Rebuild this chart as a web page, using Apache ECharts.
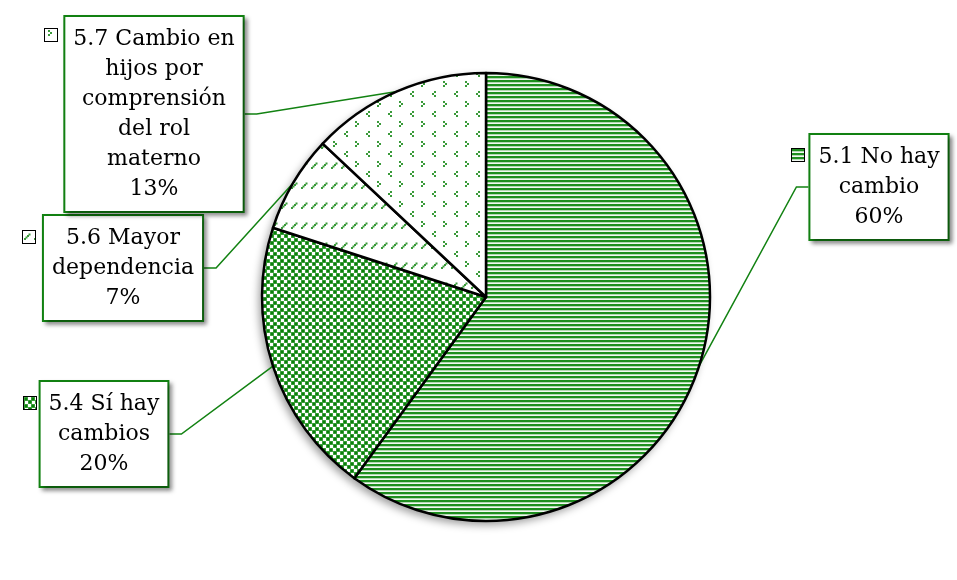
<!DOCTYPE html>
<html><head><meta charset="utf-8">
<script src="https://cdn.jsdelivr.net/npm/echarts@6/dist/echarts.min.js"></script>
<style>html,body{margin:0;padding:0;background:#fff}#c{width:957px;height:580px}</style>
</head><body><div id="c"></div>
<script>
// ---- data ----
const categories = ['5.1 No hay\ncambio', '5.4 Sí hay\ncambios', '5.6 Mayor\ndependencia', '5.7 Cambio en\nhijos por\ncomprensión\ndel rol\nmaterno'];
const values = [60, 20, 7, 13];

// ---- layout (label box centres, legend-key centres) ----
const labelCenters = [[879, 187], [104, 434], [123, 268], [154, 114]];
const keyCenters = [[798, 155], [30, 403], [29, 237], [51, 35]];

function tile(w, h, draw) {
  const c = document.createElement('canvas');
  c.width = w; c.height = h;
  const x = c.getContext('2d');
  x.fillStyle = '#fff'; x.fillRect(0, 0, w, h);
  draw(x);
  return c;
}
function dot(x, px, py, col) { x.fillStyle = col; x.fillRect(px, py, 2, 2); }
const tiles = [
  // horizontal stripes
  tile(4, 4, x => {
    x.fillStyle = '#1f8f1f'; x.fillRect(0, 0, 4, 2);
    x.fillStyle = '#b3d9b3'; x.fillRect(0, 2, 4, 1);
    x.fillStyle = '#f2f9f2'; x.fillRect(0, 3, 4, 1);
  }),
  // large confetti squares
  tile(7, 7, x => {
    x.fillStyle = '#5fb35f'; x.fillRect(0, 0, 4, 4); x.fillRect(4, 3, 4, 4); x.fillRect(-3, 3, 4, 4); x.fillRect(4, -4, 4, 4);
    x.fillStyle = '#0a800a'; x.fillRect(0.5, 0.5, 3, 3); x.fillRect(4.5, 3.5, 3, 3); x.fillRect(-2.5, 3.5, 3, 3); x.fillRect(4.5, -3.5, 3, 3);
  }),
  // dashed upward diagonal
  tile(10, 20, x => {
    const c = '#3a9a3a';
    dot(x, 1, 7, c); dot(x, 2.5, 5.5, c); dot(x, 4, 4, c); dot(x, 5.5, 2.5, c);
  }),
  // chevrons
  tile(22, 20, x => {
    const c = '#3a9a3a';
    dot(x, 3, 1, c); dot(x, 5, 3, c); dot(x, 3, 5, c);
    dot(x, 16, 11, c); dot(x, 14, 13, c); dot(x, 16, 15, c);
  })
];
function keyCanvas(t) {
  const c = document.createElement('canvas');
  c.width = 12; c.height = 12;
  const x = c.getContext('2d');
  x.fillStyle = x.createPattern(t, 'repeat');
  x.fillRect(0, 0, 12, 12);
  return c;
}
const keyRich = {};
tiles.forEach((t, i) => {
  keyRich['k' + i] = { width: 12, height: 12, fontSize: 12, lineHeight: 12, backgroundColor: { image: keyCanvas(t) }, borderColor: '#000', borderWidth: 2 };
});

const chart = echarts.init(document.getElementById('c'), null, { renderer: 'canvas' });
const mainData = categories.map((n, i) => ({ name: n, value: values[i], itemStyle: { color: { image: tiles[i], repeat: 'repeat' } } }));
const keyData = categories.map((n, i) => ({ name: n, value: values[i] }));

chart.setOption({
  animation: false,
  backgroundColor: '#fff',
  series: [
    {
      type: 'pie', z: 1, silent: true,
      center: [486, 297], radius: 224, startAngle: 90, clockwise: true,
      data: keyData,
      itemStyle: { color: '#fff', borderWidth: 0, shadowBlur: 8, shadowColor: 'rgba(0,0,0,0.4)', shadowOffsetX: -3, shadowOffsetY: 4 },
      label: { show: true, formatter: p => '{k' + p.dataIndex + '| }', rich: keyRich },
      labelLine: { show: false },
      labelLayout: p => ({ x: keyCenters[p.dataIndex][0], y: keyCenters[p.dataIndex][1], align: 'center', verticalAlign: 'middle' }),
      emphasis: { disabled: true }
    },
    {
      type: 'pie', z: 2, silent: true,
      center: [486, 297], radius: 224, startAngle: 90, clockwise: true,
      data: mainData,
      itemStyle: { borderColor: '#000', borderWidth: 2.5 },
      label: {
        show: true,
        formatter: p => p.name + '\n' + Math.round(p.percent) + '%',
        fontFamily: 'DejaVu Serif', fontSize: 22, color: '#000', lineHeight: 30, align: 'center',
        backgroundColor: '#fff', borderColor: '#128212', borderWidth: 2,
        padding: [7, 8, 7, 8],
        shadowColor: 'rgba(0,0,0,0.35)', shadowBlur: 4, shadowOffsetX: 3, shadowOffsetY: 3
      },
      labelLine: { show: true, length: 20, length2: 12, smooth: false, lineStyle: { color: '#128212', width: 1.5 } },
      labelLayout: p => ({ x: labelCenters[p.dataIndex][0], y: labelCenters[p.dataIndex][1], align: 'center', verticalAlign: 'middle' }),
      emphasis: { disabled: true }
    }
  ]
});
</script>
</body></html>
